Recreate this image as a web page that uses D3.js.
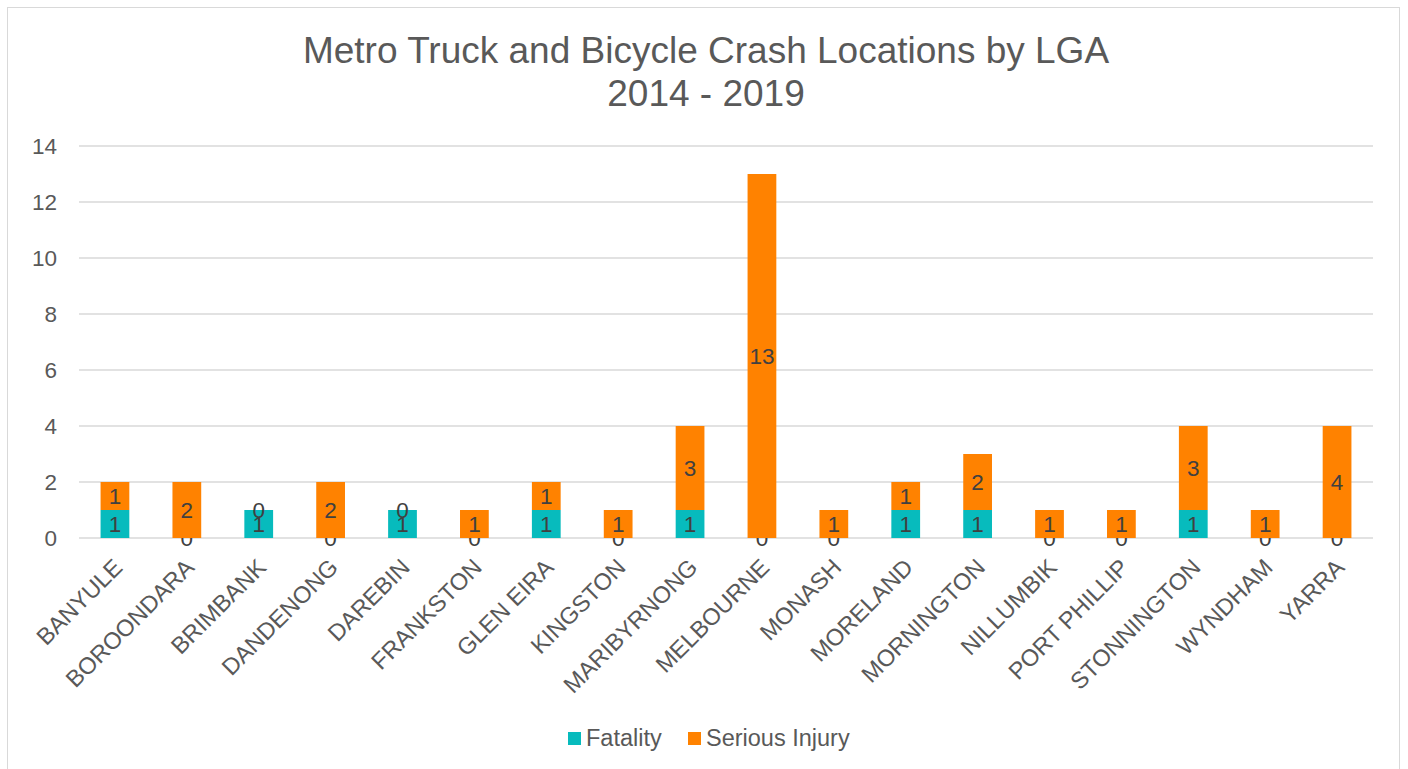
<!DOCTYPE html>
<html>
<head>
<meta charset="utf-8">
<script src="https://cdn.jsdelivr.net/npm/d3@7"></script>
<style>
  body { margin: 0; background: #fff; }
  svg { font-family: "Liberation Sans", Arial, sans-serif; }
</style>
</head>
<body>
<div id="chart"></div>
<script>
const categories = ['BANYULE', 'BOROONDARA', 'BRIMBANK', 'DANDENONG', 'DAREBIN', 'FRANKSTON',
  'GLEN EIRA', 'KINGSTON', 'MARIBYRNONG', 'MELBOURNE', 'MONASH', 'MORELAND', 'MORNINGTON',
  'NILLUMBIK', 'PORT PHILLIP', 'STONNINGTON', 'WYNDHAM', 'YARRA'];
const fatality = [1, 0, 1, 0, 1, 0, 1, 0, 1, 0, 0, 1, 1, 0, 0, 1, 0, 0];
const seriousInjury = [1, 2, 0, 2, 0, 1, 1, 1, 3, 13, 1, 1, 2, 1, 1, 3, 1, 4];
const seriesNames = ['Fatality', 'Serious Injury'];
const yTicks = [0, 2, 4, 6, 8, 10, 12, 14];

const width = 1408, height = 769;
const plotLeft = 79, plotRight = 1373, plotTop = 146, plotBottom = 538;
const colors = ['#07BBBD', '#FF8200'];
const fs = 22.5;

const svg = d3.select('#chart').append('svg')
  .attr('width', width).attr('height', height);

svg.append('rect')
  .attr('x', 7.5).attr('y', 7.5)
  .attr('width', 1392).attr('height', 770)
  .attr('fill', '#fff').attr('stroke', '#d9d9d9');

svg.append('text')
  .attr('x', 706).attr('y', 63)
  .attr('text-anchor', 'middle')
  .attr('font-size', 37).attr('fill', '#595959')
  .text('Metro Truck and Bicycle Crash Locations by LGA');
svg.append('text')
  .attr('x', 706).attr('y', 106)
  .attr('text-anchor', 'middle')
  .attr('font-size', 37).attr('fill', '#595959')
  .text('2014 - 2019');

const x = d3.scaleBand().domain(categories).range([plotLeft, plotRight]).paddingInner(0.6).paddingOuter(0.3);
const y = d3.scaleLinear().domain([0, 14]).range([plotBottom, plotTop]);

// gridlines
svg.append('g').selectAll('line')
  .data(yTicks).enter().append('line')
  .attr('x1', plotLeft).attr('x2', plotRight)
  .attr('y1', d => y(d)).attr('y2', d => y(d))
  .attr('stroke', '#d9d9d9').attr('stroke-width', 1.3);

svg.append('g').selectAll('text')
  .data(yTicks).enter().append('text')
  .attr('x', 57).attr('y', d => y(d))
  .attr('dy', '0.35em')
  .attr('text-anchor', 'end')
  .attr('font-size', fs).attr('fill', '#595959')
  .text(d => d);

const rows = categories.map((c, i) => ({ cat: c, Fatality: fatality[i], 'Serious Injury': seriousInjury[i] }));
const stacked = d3.stack().keys(seriesNames)(rows);

const layer = svg.append('g').selectAll('g')
  .data(stacked).enter().append('g')
  .attr('fill', (d, i) => colors[i]);

layer.selectAll('rect')
  .data(d => d).enter().append('rect')
  .attr('x', d => x(d.data.cat))
  .attr('width', x.bandwidth())
  .attr('y', d => y(d[1]))
  .attr('height', d => y(d[0]) - y(d[1]));

layer.selectAll('text')
  .data(d => d).enter().append('text')
  .attr('x', d => x(d.data.cat) + x.bandwidth() / 2)
  .attr('y', d => (y(d[0]) + y(d[1])) / 2)
  .attr('dy', '0.36em')
  .attr('text-anchor', 'middle')
  .attr('font-size', fs).attr('fill', '#404040')
  .text(d => d[1] - d[0]);

// x labels
svg.append('g').selectAll('text')
  .data(categories).enter().append('text')
  .attr('transform', d => `translate(${x(d) + x.bandwidth() / 2 + 3},${plotBottom + 25}) rotate(-45)`)
  .attr('text-anchor', 'end')
  .attr('dy', '0.35em')
  .attr('font-size', 23.5).attr('fill', '#595959')
  .text(d => d);

// legend
const legend = svg.append('g').selectAll('g')
  .data(seriesNames).enter().append('g')
  .attr('transform', (d, i) => `translate(${i === 0 ? 568 : 688},738)`);
legend.append('rect')
  .attr('x', 0).attr('y', -6).attr('width', 13).attr('height', 13)
  .attr('fill', (d, i) => colors[i]);
legend.append('text')
  .attr('x', 18).attr('dy', '0.35em')
  .attr('font-size', 23.5).attr('fill', '#595959')
  .text(d => d);
</script>
</body>
</html>
